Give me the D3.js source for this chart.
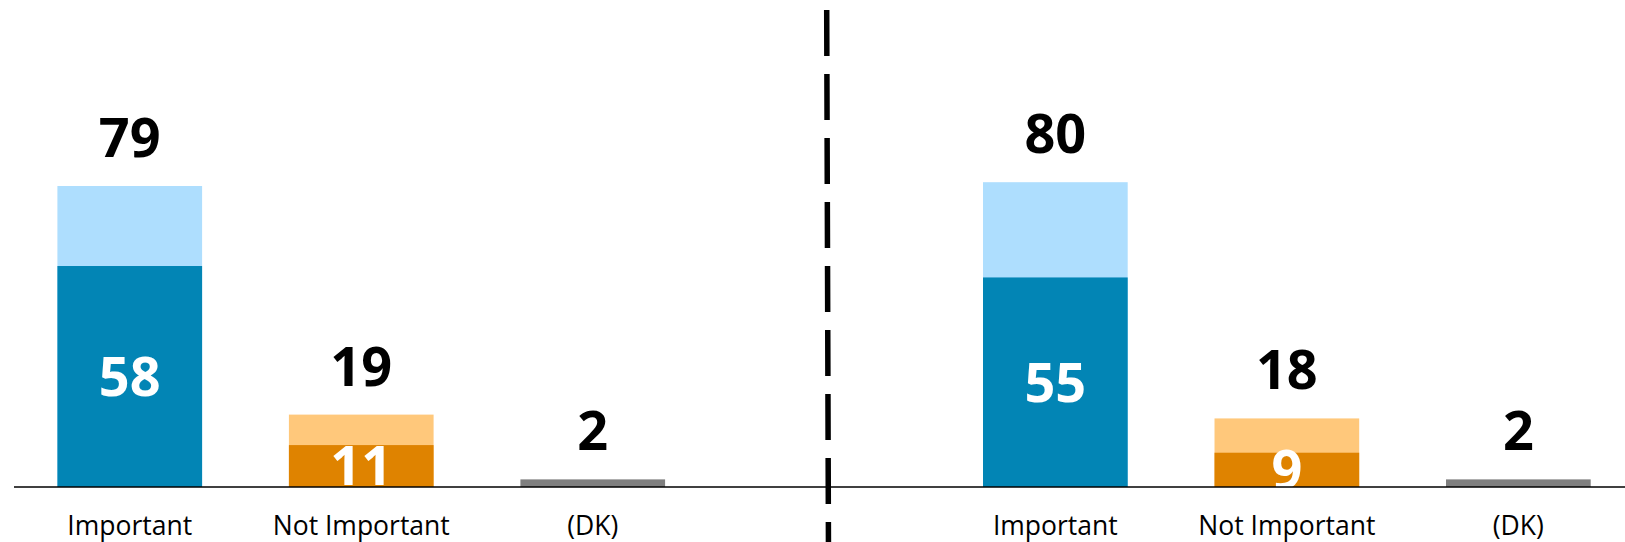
<!DOCTYPE html>
<html>
<head>
<meta charset="utf-8">
<script src="https://cdn.jsdelivr.net/npm/d3@7"></script>
<style>
  html, body { margin: 0; padding: 0; background: #fff; }
  svg { display: block; }
</style>
</head>
<body>
<script>
const categories = ["Important", "Not Important", "(DK)"];
const leftTotals = [79, 19, 2];
const leftStrong = [58, 11, null];
const rightTotals = [80, 18, 2];
const rightStrong = [55, 9, null];

const W = 1625, H = 542;
const baseY = 487;
const svg = d3.select("body").append("svg").attr("width", W).attr("height", H);

const y = d3.scaleLinear().domain([0, 100]).range([baseY, baseY - 381]);

const lightColors = ["#AEDEFE", "#FFC87B", "#7F7F7F"];
const darkColors = ["#0285B5", "#DF8300", "#7F7F7F"];

svg.append("defs").append("clipPath").attr("id", "above")
  .append("rect").attr("x", 0).attr("y", 0).attr("width", W).attr("height", baseY);

function panel(range, totals, strong) {
  const x = d3.scaleBand().domain(categories).range(range)
    .paddingInner(0.375).paddingOuter(0.1875);
  const g = svg.append("g");
  const data = categories.map((c, i) => ({ c, i, total: totals[i], strong: strong[i] }));

  g.selectAll("rect.total").data(data).join("rect")
    .attr("class", "total")
    .attr("x", d => x(d.c)).attr("width", x.bandwidth())
    .attr("y", d => y(d.total)).attr("height", d => y(0) - y(d.total))
    .attr("fill", d => lightColors[d.i]);

  g.selectAll("rect.strong").data(data.filter(d => d.strong != null)).join("rect")
    .attr("class", "strong")
    .attr("x", d => x(d.c)).attr("width", x.bandwidth())
    .attr("y", d => y(d.strong)).attr("height", d => y(0) - y(d.strong))
    .attr("fill", d => darkColors[d.i]);

  g.selectAll("text.total").data(data).join("text")
    .attr("class", "total")
    .attr("x", d => x(d.c) + x.bandwidth() / 2)
    .attr("y", d => y(d.total) - 29)
    .attr("text-anchor", "middle")
    .attr("font-family", "'Open Sans', sans-serif")
    .attr("font-weight", "bold")
    .attr("font-size", 54)
    .attr("fill", "#000")
    .text(d => d.total);

  g.selectAll("text.strong").data(data.filter(d => d.strong != null)).join("text")
    .attr("class", "strong")
    .attr("clip-path", "url(#above)")
    .attr("x", d => x(d.c) + x.bandwidth() / 2)
    .attr("y", d => (y(d.strong) + y(0)) / 2)
    .attr("dy", "0.36em")
    .attr("text-anchor", "middle")
    .attr("font-family", "'Open Sans', sans-serif")
    .attr("font-weight", "bold")
    .attr("font-size", 54)
    .attr("fill", "#fff")
    .text(d => d.strong);

  g.selectAll("text.cat").data(data).join("text")
    .attr("class", "cat")
    .attr("x", d => x(d.c) + x.bandwidth() / 2)
    .attr("y", 535)
    .attr("text-anchor", "middle")
    .attr("font-family", "'Open Sans', sans-serif")
    .attr("font-size", 26.5)
    .attr("fill", "#000")
    .text(d => d.c);
}

panel([14, 708.5], leftTotals, leftStrong);
panel([939.6, 1634.1], rightTotals, rightStrong);

// baseline
svg.append("line")
  .attr("x1", 14).attr("x2", W).attr("y1", baseY).attr("y2", baseY)
  .attr("stroke", "#000").attr("stroke-width", 1.5);

// divider
svg.append("line")
  .attr("x1", 826.7).attr("x2", 828.5).attr("y1", 10).attr("y2", 560)
  .attr("stroke", "#000").attr("stroke-width", 5.5)
  .attr("stroke-dasharray", "46 18");
</script>
</body>
</html>
